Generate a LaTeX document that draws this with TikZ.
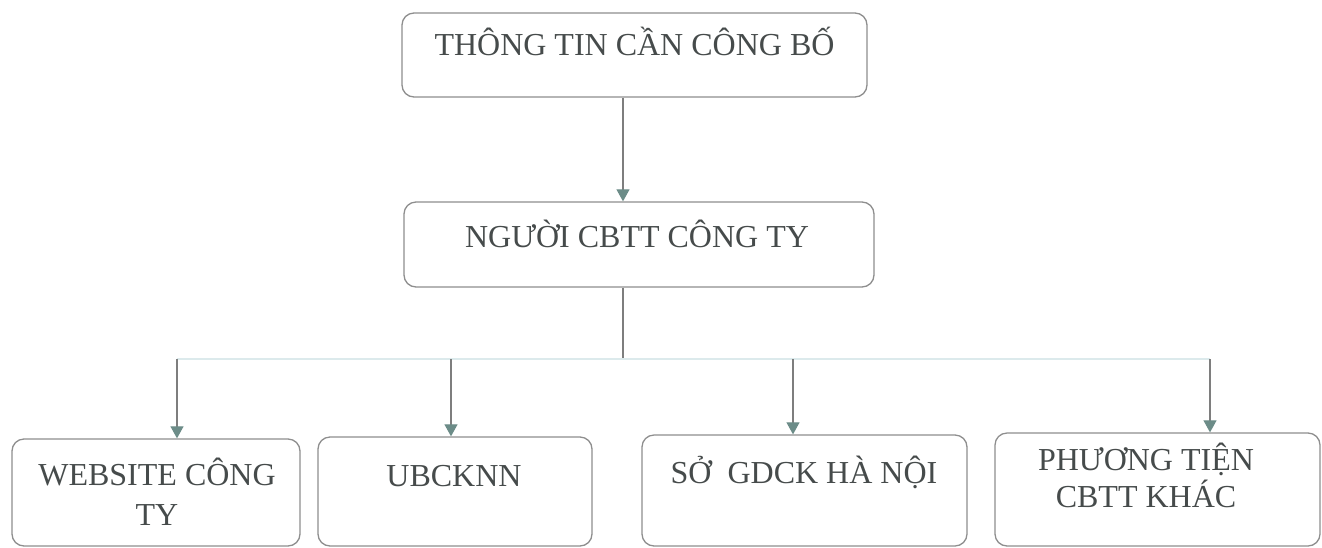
\documentclass[tikz,border=0pt]{standalone}
\usepackage{fontspec}
\setmainfont{Liberation Serif}
\usetikzlibrary{arrows.meta}

\definecolor{inkc}{HTML}{464B4B}
\definecolor{framec}{HTML}{8E8E8E}
\definecolor{wirec}{HTML}{7E7E7E}
\definecolor{tipc}{HTML}{6C8C88}
\definecolor{busc}{HTML}{DCEAEC}

\begin{document}
\begin{tikzpicture}[x=1pt,y=-1pt,
  card/.style={rectangle, draw=framec, line width=1.3pt, rounded corners=12pt, inner sep=0pt},
  caption/.style={text=inkc, font=\fontsize{32}{40}\selectfont, inner sep=0pt, anchor=base, align=center},
  wire/.style={draw=wirec, line width=1.1pt},
  busline/.style={draw=busc, line width=1.1pt},
  feed/.style={wire, -{Triangle[width=13pt,length=12pt,color=tipc,fill=tipc]}}]

\useasboundingbox (0,0) rectangle (1322,547);

% boxes
\node[card, minimum width=465pt, minimum height=84pt] (src) at (634.5,55) {};
\node[card, minimum width=470pt, minimum height=85pt] (mid) at (639,244.5) {};
\node[card, minimum width=288pt, minimum height=107pt] (web) at (156,492.5) {};
\node[card, minimum width=274pt, minimum height=109pt] (ubc) at (455,491.5) {};
\node[card, minimum width=325pt, minimum height=111pt] (sgd) at (804.5,490.5) {};
\node[card, minimum width=325pt, minimum height=113pt] (oth) at (1157.5,489.5) {};

% labels (base anchor of a two-line label sits on its last line)
\node[caption] (srcT) at (634.5,55) {THÔNG TIN CẦN CÔNG BỐ};
\node[caption] (midT) at (637,247) {NGƯỜI CBTT CÔNG TY};
\node[caption] (webT) at (157,525) {WEBSITE CÔNG\\TY};
\node[caption] (ubcT) at (454,486) {UBCKNN};
\node[caption] (sgdT) at (804,483) {SỞ\ \ GDCK HÀ NỘI};
\node[caption, font=\fontsize{32}{37}\selectfont] (othT) at (1146,507) {PHƯƠNG TIỆN\\CBTT KHÁC};

% connectors
\coordinate (axis) at (623,0);
\coordinate (hub) at (623,359);
\coordinate (d1) at (177,359);
\coordinate (d2) at (451,359);
\coordinate (d3) at (793,359);
\coordinate (d4) at (1210,359);

\draw[feed] (src.south -| axis) -- (mid.north -| axis);
\draw[wire] (mid.south -| axis) -- (hub);
\draw[busline] (d1) -- (d4);
\draw[feed] (d1) -- (web.north -| d1);
\draw[feed] (d2) -- (ubc.north -| d2);
\draw[feed] (d3) -- (sgd.north -| d3);
\draw[feed] (d4) -- (oth.north -| d4);
\end{tikzpicture}
\end{document}
